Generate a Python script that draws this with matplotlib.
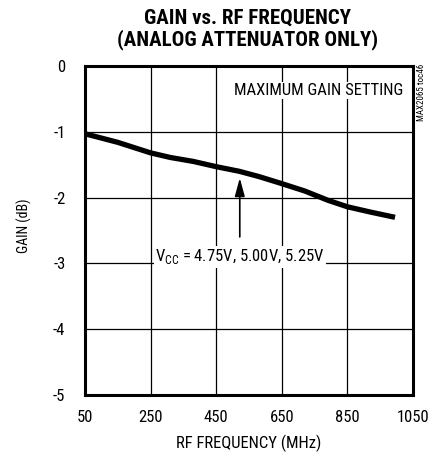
import numpy as np
import matplotlib.pyplot as plt

# data
freq = [50, 150, 250, 310, 380, 450, 520, 580, 645, 720, 790, 850, 920, 995]
gain = [-1.03, -1.16, -1.32, -1.39, -1.45, -1.53, -1.60, -1.68, -1.78, -1.90, -2.04, -2.14, -2.22, -2.30]
xticks = [50, 250, 450, 650, 850, 1050]
yticks = [0, -1, -2, -3, -4, -5]

plt.rcParams['font.family'] = ['Roboto Condensed', 'DejaVu Sans']

fig = plt.figure(figsize=(4.33, 4.57), dpi=100)
ax = fig.add_axes([0.196, 0.1357, 0.758, 0.7199])

ax.plot(freq, gain, color='black', lw=3.8, solid_capstyle='butt', zorder=3)

ax.set_xlim(50, 1050)
ax.set_ylim(-5, 0)
ax.set_xticks(xticks)
ax.set_yticks(yticks)
ax.set_xticklabels([str(v) for v in xticks])
ax.set_yticklabels([str(v) for v in yticks])
ax.tick_params(length=0, labelsize=12, colors='black')
ax.tick_params(axis='x', pad=11)
ax.tick_params(axis='y', pad=14)
ax.grid(True, color='black', lw=0.9)
for s in ax.spines.values():
    s.set_linewidth(2.2)

ax.set_xlabel('RF FREQUENCY (MHz)', fontsize=12, labelpad=7)
ax.set_ylabel('GAIN (dB)', fontsize=10, labelpad=14)
ax.yaxis.set_label_coords(-0.16, 0.515)

fig.text(0.572, 0.982, 'GAIN vs. RF FREQUENCY\n(ANALOG ATTENUATOR ONLY)', ha='center', va='top',
         fontsize=15, fontweight='black', linespacing=1.1)

ax.text(1020, -0.37, 'MAXIMUM GAIN SETTING', ha='right', va='center', fontsize=12,
        bbox=dict(facecolor='white', edgecolor='none', pad=1), zorder=4)
ax.annotate('', xy=(522, -1.66), xytext=(522, -2.64),
            arrowprops=dict(arrowstyle='-|>,head_width=0.3,head_length=1.1', color='black', lw=1.2), zorder=4)
ax.text(522, -2.9, r'V$_{\mathregular{CC}}$ = 4.75V, 5.00V, 5.25V', ha='center', va='center', fontsize=12,
        bbox=dict(facecolor='white', edgecolor='none', pad=1), zorder=4)

fig.text(0.973, 0.86, 'MAX2065 toc46', rotation=90, ha='center', va='top', fontsize=6.5)

fig.savefig('out.png', dpi=100)
